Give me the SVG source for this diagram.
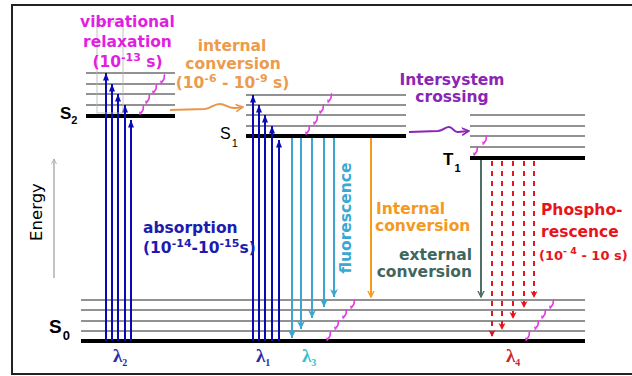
<svg xmlns="http://www.w3.org/2000/svg" width="632" height="376" viewBox="0 0 632 376">
<defs>
<style>
.thin{stroke:#6e6e6e;stroke-width:1.5;fill:none}
.thick{stroke:#000;stroke-width:4;fill:none}
.b{font-family:"DejaVu Sans",Verdana,sans-serif;font-weight:bold;font-size:15.5px}
.st{font-family:"Liberation Sans",Arial,sans-serif}
.lam{font-family:"Liberation Serif","DejaVu Serif",serif;font-weight:bold}
.abs{stroke:#0a0ab4;stroke-width:2;fill:none;marker-end:url(#mBlue)}
.flu{stroke:#3ba6d0;stroke-width:2;fill:none;marker-end:url(#mCyan)}
.pho{stroke:#e8141c;stroke-width:2;fill:none;stroke-dasharray:5 5;marker-end:url(#mRed)}
</style>
<marker id="mBlue" viewBox="0 0 10 8" refX="10" refY="4" markerUnits="userSpaceOnUse" markerWidth="8" markerHeight="6" orient="auto"><path d="M0,0 L10,4 L0,8 z" fill="#0a0ab4"/></marker>
<marker id="mCyan" viewBox="0 0 10 10" refX="10" refY="5" markerUnits="userSpaceOnUse" markerWidth="8" markerHeight="8" orient="auto"><path d="M0,0 L10,5 L0,10 L3,5 z" fill="#3ba6d0"/></marker>
<marker id="mRed" viewBox="0 0 10 10" refX="10" refY="5" markerUnits="userSpaceOnUse" markerWidth="7" markerHeight="8" orient="auto"><path d="M0,0 L10,5 L0,10 L3,5 z" fill="#e8141c"/></marker>
<marker id="mOrange" viewBox="0 0 10 10" refX="9" refY="5" markerUnits="userSpaceOnUse" markerWidth="7" markerHeight="8" orient="auto"><path d="M0,0.5 L9,5 L0,9.5" fill="none" stroke="#f59a1b" stroke-width="2"/></marker>
<marker id="mTeal" viewBox="0 0 10 10" refX="9" refY="5" markerUnits="userSpaceOnUse" markerWidth="7" markerHeight="8" orient="auto"><path d="M0,0.5 L9,5 L0,9.5" fill="none" stroke="#4f6e66" stroke-width="2"/></marker>
<marker id="mGray" viewBox="0 0 10 10" refX="9" refY="5" markerUnits="userSpaceOnUse" markerWidth="6" markerHeight="7" orient="auto"><path d="M0,0.5 L9,5 L0,9.5" fill="none" stroke="#b0b0b0" stroke-width="1.5"/></marker>
<marker id="mIc" viewBox="0 0 10 10" refX="9" refY="5" markerUnits="userSpaceOnUse" markerWidth="8" markerHeight="9" orient="auto"><path d="M0,0.5 L9,5 L0,9.5" fill="none" stroke="#e8964a" stroke-width="2"/></marker>
<marker id="mIsc" viewBox="0 0 10 10" refX="9" refY="5" markerUnits="userSpaceOnUse" markerWidth="8" markerHeight="9" orient="auto"><path d="M0,0.5 L9,5 L0,9.5" fill="none" stroke="#8a25b5" stroke-width="2"/></marker>
<g id="sq"><path d="M2,-4.5 C0,-3.5 2.5,-1 0.3,1.2 C-0.3,1.8 -0.6,2.2 -0.9,2.6" fill="none" stroke="#e23ee2" stroke-width="1.7"/><path d="M-3,1.4 L0.6,2.6 L-2.2,5.4 z" fill="#e23ee2"/></g>
</defs>

<rect width="632" height="376" fill="#fff"/>
<path d="M640,5 H12 V374 H640" fill="none" stroke="#222" stroke-width="2"/>

<g id="energy-axis">
<line x1="54" y1="278" x2="54" y2="159" stroke="#b0b0b0" stroke-width="1.5" marker-end="url(#mGray)"/>
<text transform="translate(42,212) rotate(-90)" text-anchor="middle" font-family="DejaVu Sans,Verdana,sans-serif" font-size="16.5" fill="#000">Energy</text>
</g>

<g id="S2">
<line class="thin" x1="86" y1="73" x2="175" y2="73"/>
<line class="thin" x1="86" y1="84" x2="175" y2="84"/>
<line class="thin" x1="86" y1="94" x2="175" y2="94"/>
<line class="thin" x1="86" y1="105" x2="175" y2="105"/>
<line class="thick" x1="86" y1="116" x2="175" y2="116"/>
<text class="st" x="60" y="119" font-size="17" font-weight="bold">S<tspan font-size="11" dy="5">2</tspan></text>
</g>

<g id="S1">
<line class="thin" x1="246" y1="95" x2="406" y2="95"/>
<line class="thin" x1="246" y1="105" x2="406" y2="105"/>
<line class="thin" x1="246" y1="115" x2="406" y2="115"/>
<line class="thin" x1="246" y1="126" x2="406" y2="126"/>
<line class="thick" x1="246" y1="136" x2="406" y2="136"/>
<text class="st" x="220" y="139" font-size="16">S<tspan font-size="11" dy="8" dx="1">1</tspan></text>
</g>

<g id="T1">
<line class="thin" x1="470" y1="115" x2="585" y2="115"/>
<line class="thin" x1="470" y1="126" x2="585" y2="126"/>
<line class="thin" x1="470" y1="136" x2="585" y2="136"/>
<line class="thin" x1="470" y1="147" x2="585" y2="147"/>
<line class="thick" x1="470" y1="158" x2="585" y2="158"/>
<text class="st" x="443" y="165" font-size="17" font-weight="bold">T<tspan font-size="11" dy="7" dx="1">1</tspan></text>
</g>

<g id="S0">
<line class="thin" x1="81" y1="300" x2="585" y2="300"/>
<line class="thin" x1="81" y1="310" x2="585" y2="310"/>
<line class="thin" x1="81" y1="321" x2="585" y2="321"/>
<line class="thin" x1="81" y1="331" x2="585" y2="331"/>
<line class="thick" x1="81" y1="341" x2="585" y2="341"/>
<text class="st" x="49" y="333" font-size="19" font-weight="bold">S<tspan font-size="13" dy="7" dx="1">0</tspan></text>
</g>

<g id="connectors">
<g id="absorption-S2">
<line class="abs" x1="106" y1="341" x2="106" y2="73"/>
<line class="abs" x1="112" y1="341" x2="112" y2="84"/>
<line class="abs" x1="118" y1="341" x2="118" y2="94"/>
<line class="abs" x1="125" y1="341" x2="125" y2="105"/>
<line class="abs" x1="131" y1="341" x2="131" y2="120"/>
</g>
<g id="absorption-S1">
<line class="abs" x1="253" y1="341" x2="253" y2="95"/>
<line class="abs" x1="259" y1="341" x2="259" y2="105"/>
<line class="abs" x1="265" y1="341" x2="265" y2="115"/>
<line class="abs" x1="272" y1="341" x2="272" y2="126"/>
<line class="abs" x1="279" y1="341" x2="279" y2="140"/>
</g>
<g id="fluorescence-arrows">
<line class="flu" x1="292" y1="138" x2="292" y2="338"/>
<line class="flu" x1="301" y1="138" x2="301" y2="329" stroke="#4b9fc6"/>
<line class="flu" x1="312" y1="138" x2="312" y2="318"/>
<line class="flu" x1="324" y1="138" x2="324" y2="307" stroke="#4b9fc6"/>
<line class="flu" x1="334" y1="138" x2="334" y2="297"/>
</g>
<line id="ic-arrow" x1="371" y1="138" x2="371" y2="297" stroke="#f59a1b" stroke-width="2" marker-end="url(#mOrange)"/>
<line id="ec-arrow" x1="481" y1="160" x2="481" y2="297" stroke="#4f6e66" stroke-width="2" marker-end="url(#mTeal)"/>
<g id="phosphorescence-arrows">
<line class="pho" x1="492" y1="161" x2="492" y2="337"/>
<line class="pho" x1="502" y1="161" x2="502" y2="330"/>
<line class="pho" x1="513" y1="161" x2="513" y2="319"/>
<line class="pho" x1="524" y1="161" x2="524" y2="308"/>
<line class="pho" x1="534" y1="161" x2="534" y2="298"/>
</g>
<path id="ic-wavy" d="M170,110 L205,109 C212,108 213,104 220,104 C226,104 228,109 236,108 L243,107" fill="none" stroke="#e8964a" stroke-width="2" marker-end="url(#mIc)"/>
<path id="isc-wavy" d="M409,132 L438,131 C444,130 445,127 449,127 C453,127 454,133 458,132 L469,131" fill="none" stroke="#8a25b5" stroke-width="2" marker-end="url(#mIsc)"/>
<g id="vib-relax">
<use href="#sq" x="163" y="79"/><use href="#sq" x="155" y="89"/><use href="#sq" x="148" y="99"/><use href="#sq" x="142" y="110"/>
<use href="#sq" x="330" y="98"/><use href="#sq" x="322" y="109"/><use href="#sq" x="316" y="120"/><use href="#sq" x="308" y="130"/>
<use href="#sq" x="485" y="140"/><use href="#sq" x="476" y="151"/>
<use href="#sq" x="353" y="304"/><use href="#sq" x="345" y="314"/><use href="#sq" x="337" y="325"/><use href="#sq" x="329" y="336"/>
<use href="#sq" x="552" y="304"/><use href="#sq" x="544" y="314"/><use href="#sq" x="537" y="325"/><use href="#sq" x="528" y="336"/>
</g>
</g>

<rect x="97" y="22" width="26" height="91" fill="none" stroke="#b4b4b4" stroke-width="0.8"/>

<g id="labels">
<text class="b" fill="#e11fe1" text-anchor="middle"><tspan x="127.5" y="27">vibrational</tspan><tspan x="127.5" y="47">relaxation</tspan><tspan x="127.5" y="67">(10<tspan font-size="11" dy="-6">-13</tspan><tspan dy="6"> s)</tspan></tspan></text>
<text class="b" fill="#ec9b4d" text-anchor="middle"><tspan x="232" y="51">internal</tspan><tspan x="233" y="69">conversion</tspan><tspan x="232.5" y="88">(10<tspan font-size="11" dy="-6">-6</tspan><tspan dy="6"> - 10</tspan><tspan font-size="11" dy="-6">-9</tspan><tspan dy="6"> s)</tspan></tspan></text>
<text class="b" fill="#8a25b5" text-anchor="middle"><tspan x="452" y="85">Intersystem</tspan><tspan x="452" y="102">crossing</tspan></text>
<text class="b" fill="#1c1cb0"><tspan x="143" y="233">absorption</tspan><tspan x="143" y="253">(10<tspan font-size="11" dy="-6">-14</tspan><tspan dy="6">-10</tspan><tspan font-size="11" dy="-6">-15</tspan><tspan dy="6">s)</tspan></tspan></text>
<text class="b" fill="#3aa8d2" transform="translate(351,218) rotate(-90)" text-anchor="middle">fluorescence</text>
<text class="b" fill="#f39a1e"><tspan x="376" y="214">Internal</tspan><tspan x="375" y="231">conversion</tspan></text>
<text class="b" fill="#3f675e" text-anchor="end"><tspan x="472" y="260">external</tspan><tspan x="472" y="277">conversion</tspan></text>
<text class="b" fill="#e8141c"><tspan x="541" y="215">Phospho-</tspan><tspan x="541" y="237">rescence</tspan><tspan x="539" y="260" font-size="13">(10<tspan font-size="9.5" dy="-6">- 4</tspan><tspan dy="6"> - 10 s)</tspan></tspan></text>
<text class="lam" fill="#2b2ba5" x="113" y="362" font-size="19">λ<tspan font-size="10" dy="4">2</tspan></text>
<text class="lam" fill="#2b2ba5" x="256" y="362" font-size="19">λ<tspan font-size="10" dy="4">1</tspan></text>
<text class="lam" fill="#35c0c8" x="302" y="362" font-size="19">λ<tspan font-size="10" dy="4">3</tspan></text>
<text class="lam" fill="#c82828" x="506" y="362" font-size="19">λ<tspan font-size="10" dy="4">4</tspan></text>
</g>
</svg>
